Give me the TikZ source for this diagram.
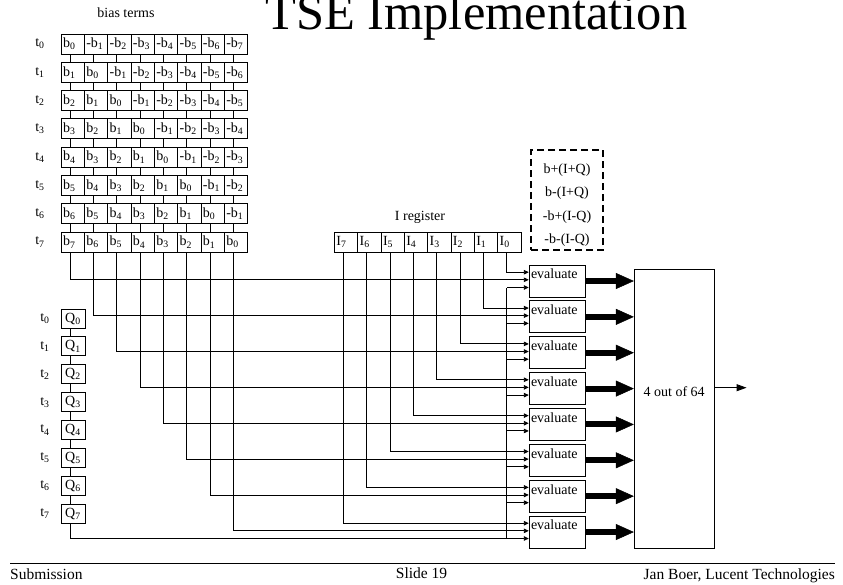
\documentclass[tikz,border=0pt]{standalone}
\usepackage{fontspec}
\setmainfont{Liberation Serif}
\usetikzlibrary{arrows.meta,calc}

\tikzset{
  cellbox/.style={draw, line width=0.9pt, text width=19.33pt, align=left,
                  inner xsep=2pt, inner ysep=0pt, minimum height=20pt},
  qbox/.style={draw, line width=0.9pt, minimum width=24pt, minimum height=19pt, inner sep=1pt},
  evalbox/.style={draw, line width=1pt, minimum width=56pt, minimum height=32pt},
  selbox/.style={draw, line width=1pt, minimum width=79.7pt, minimum height=279.3pt},
  opsbox/.style={draw, dashed, line width=1.8pt, dash pattern=on 7pt off 4pt,
                 minimum width=72pt, minimum height=100pt},
  wire/.style={line width=0.9pt},
  inarrow/.style={wire, -{Triangle[length=5pt,width=4.5pt]}},
  fatarrow/.style={line width=6pt, -{Triangle[length=18pt,width=16pt,line width=0.5pt]}},
  footer/.style={inner sep=0pt, font=\fontsize{15.5}{18}\selectfont},
}

\begin{document}
\begin{tikzpicture}[x=1pt,y=-1pt,font=\fontsize{14}{16}\selectfont]
\fill[white] (0,0) rectangle (843,584);
\useasboundingbox (0,0) rectangle (843,584);

\node[anchor=base west, inner sep=0pt, font=\fontsize{50.5}{56}\selectfont] (title) at (265,29.3) {TSE Implementation};

% bias terms
\node (biastitle) at (126,13) {bias terms};
\foreach \r in {0,...,7}{
  \node (bt\r) at (40,44+28.3*\r) {t\textsubscript{\r}};
  \foreach \c in {0,...,7}{
    \pgfmathtruncatemacro\d{abs(\r-\c)}
    \node[cellbox] (b\r\c) at (72.67+23.33*\c,44+28.3*\r) {\ifnum\c>\r -\fi b\textsubscript{\d}};
  }
}
\foreach \r [evaluate=\r as \s using int(\r+1)] in {0,...,6}
  \foreach \c in {0,...,7}
    \draw[wire] ([xshift=-2.5pt]b\r\c.south) -- ([xshift=-2.5pt]b\s\c.north);

% Q column
\foreach \r in {0,...,7}{
  \node (qt\r) at (45,318.5+27.9*\r) {t\textsubscript{\r}};
  \node[qbox] (Q\r) at (73,318.5+27.9*\r) {Q\textsubscript{\r}};
}
\foreach \r [evaluate=\r as \s using int(\r+1)] in {0,...,6}
  \draw[wire] ([xshift=-2.5pt]Q\r.south) -- ([xshift=-2.5pt]Q\s.north);

% I register
\node (ireg) at (420,217) {I register};
\foreach \k in {0,...,7}
  \node[cellbox] (I\k) at (346+23.33*7-23.33*\k,242) {I\textsubscript{\k}};

\node[opsbox] (ops) at (567,200) {};
\node[align=center, font=\fontsize{14}{23.3}\selectfont] (opstext) at (567,205) {b+(I+Q)\\b-(I+Q)\\-b+(I-Q)\\-b-(I-Q)};

% evaluate stage
\node[selbox, label={[yshift=17pt]center:4 out of 64}] (sel) at (674.2,408.7) {};
\coordinate (qx) at ([xshift=-2.5pt]I0.south);
\foreach \i [evaluate=\i as \k using int(\i-1)] in {1,...,8}{
  \node[evalbox, label={[anchor=north west, inner xsep=2pt, inner ysep=4.5pt]north west:evaluate}] (E\i) at (557.3,281+35.86*\k) {};
  \coordinate (Ea\i) at ($(E\i.north west)+(0,7.7)$);
  \coordinate (Eb\i) at ($(E\i.north west)+(0,15.3)$);
  \coordinate (Ec\i) at ($(E\i.north west)+(0,23)$);
  \draw[inarrow] ([xshift=-2.5pt]I\k.south) |- (Ea\i);
  \draw[inarrow] ([xshift=-2.5pt]b7\k.south) |- (Eb\i);
  \draw[fatarrow] (E\i.east) -- (E\i.east -| sel.west);
}
\draw[wire] ([xshift=-2.5pt]Q7.south) |- (qx |- Ec8) -- (qx |- Ec1);
\foreach \i in {1,...,8}
  \draw[inarrow] (qx |- Ec\i) -- (Ec\i);

\coordinate (selout) at ($(sel.east)+(0,-21)$);
\coordinate (outend) at ($(selout)+(32,0)$);
\draw[wire, -{Triangle[length=10pt,width=7pt]}] (selout) -- (outend);

% footer
\draw[line width=0.9pt] (10,563) -- (835,563);
\node[footer, anchor=base west] (sub) at (10,579) {Submission};
\node[footer, anchor=base] (slide) at (421.5,578) {Slide 19};
\node[footer, anchor=base east] (auth) at (835,579) {Jan Boer, Lucent Technologies};
\end{tikzpicture}
\end{document}
